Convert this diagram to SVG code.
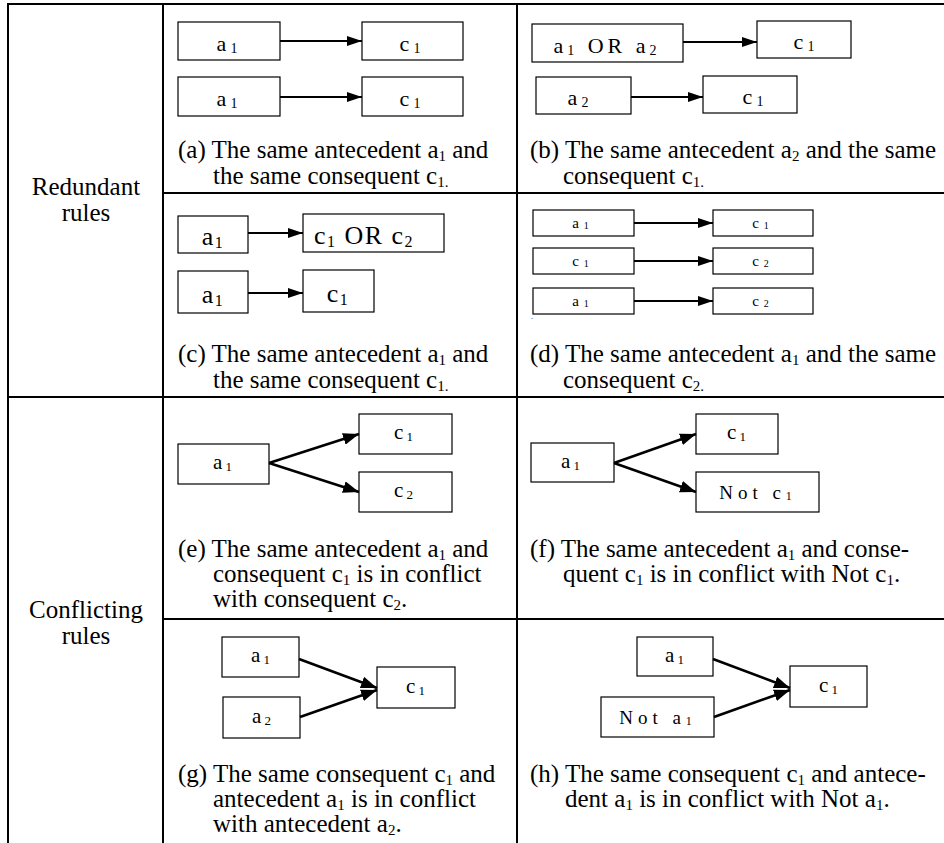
<svg xmlns="http://www.w3.org/2000/svg" width="944" height="843" viewBox="0 0 944 843">
<style>
text{font-family:"Liberation Serif","Times New Roman",serif;fill:#000}
.cap{font-size:25px}
.hd{font-size:25px;text-anchor:middle}
.sb{font-size:15px}
.grid{stroke:#000;stroke-width:2;fill:none}
.box{fill:#fff;stroke:#000;stroke-width:1.2}
.la{font-size:22px;text-anchor:middle;letter-spacing:4px}
.la .s{font-size:14px}
.lc{font-size:26px;text-anchor:middle;letter-spacing:1.5px}
.lc .s{font-size:16px}
.ld{font-size:15px;text-anchor:middle;letter-spacing:5px}
.ld .s{font-size:10px}
.le{font-size:21px;text-anchor:middle;letter-spacing:3px}
.le .s{font-size:13px}
.ln{font-size:19px;text-anchor:middle;letter-spacing:5px}
.ln .s{font-size:12px}
.ar{stroke:#000;stroke-width:2;fill:none;marker-end:url(#ah)}
.ar2{stroke:#000;stroke-width:2.6;fill:none;marker-end:url(#ah2)}
</style>
<defs>
<marker id="ah" viewBox="0 0 15 10" refX="15" refY="5" markerWidth="15" markerHeight="10" markerUnits="userSpaceOnUse" orient="auto"><path d="M0,0 L15,5 L0,10 z" fill="#000"/></marker>
<marker id="ah2" viewBox="0 0 16 12" refX="16" refY="6" markerWidth="16" markerHeight="12" markerUnits="userSpaceOnUse" orient="auto"><path d="M0,0 L16,6 L0,12 z" fill="#000"/></marker>
</defs>

<g id="table" class="grid">
<line x1="8" y1="4" x2="944" y2="4"/>
<line x1="8" y1="3" x2="8" y2="843"/>
<line x1="163" y1="3" x2="163" y2="843"/>
<line x1="517" y1="3" x2="517" y2="843"/>
<line x1="163" y1="193" x2="944" y2="193"/>
<line x1="8" y1="397" x2="944" y2="397"/>
<line x1="163" y1="619" x2="944" y2="619"/>
</g>

<g id="headers">
<text class="hd" x="86" y="195">Redundant</text>
<text class="hd" x="86" y="221">rules</text>
<text class="hd" x="86" y="618">Conflicting</text>
<text class="hd" x="86" y="644">rules</text>
</g>

<!-- (a) -->
<g id="a-a1-1"><rect class="box" x="178" y="22" width="102" height="38"/><text class="la" x="229" y="51">a<tspan class="s" dy="2">1</tspan></text></g>
<g id="a-c1-1"><rect class="box" x="362" y="22" width="101" height="38"/><text class="la" x="412" y="51">c<tspan class="s" dy="2">1</tspan></text></g>
<g id="a-a1-2"><rect class="box" x="178" y="77" width="102" height="39"/><text class="la" x="229" y="106">a<tspan class="s" dy="2">1</tspan></text></g>
<g id="a-c1-2"><rect class="box" x="362" y="77" width="101" height="39"/><text class="la" x="412" y="106">c<tspan class="s" dy="2">1</tspan></text></g>
<g id="cap-a"><text class="cap" x="178" y="158">(a) The same antecedent a<tspan class="sb" dy="3">1</tspan><tspan dy="-3"> and</tspan></text><text class="cap" x="213" y="184">the same consequent c<tspan class="sb" dy="3">1.</tspan></text></g>

<!-- (b) -->
<g id="b-a1ora2"><rect class="box" x="532" y="24" width="151" height="38"/><text class="la" x="607" y="53">a<tspan class="s" dy="2">1</tspan><tspan dy="-2"> OR a</tspan><tspan class="s" dy="2">2</tspan></text></g>
<g id="b-c1-1"><rect class="box" x="757" y="21" width="94" height="37"/><text class="la" x="806" y="49">c<tspan class="s" dy="2">1</tspan></text></g>
<g id="b-a2"><rect class="box" x="536" y="77" width="95" height="37"/><text class="la" x="580" y="105">a<tspan class="s" dy="2">2</tspan></text></g>
<g id="b-c1-2"><rect class="box" x="703" y="76" width="94" height="37"/><text class="la" x="755" y="104">c<tspan class="s" dy="2">1</tspan></text></g>
<g id="cap-b"><text class="cap" x="530" y="158">(b) The same antecedent a<tspan class="sb" dy="3">2</tspan><tspan dy="-3"> and the same</tspan></text><text class="cap" x="563" y="184">consequent c<tspan class="sb" dy="3">1.</tspan></text></g>

<!-- (c) -->
<g id="c-a1-1"><rect class="box" x="178" y="216" width="70" height="37"/><text class="lc" x="213" y="245">a<tspan class="s" dy="3">1</tspan></text></g>
<g id="c-c1orc2"><rect class="box" x="303" y="214" width="141" height="38"/><text class="lc" x="364" y="244">c<tspan class="s" dy="3">1</tspan><tspan dy="-3"> OR c</tspan><tspan class="s" dy="3">2</tspan></text></g>
<g id="c-a1-2"><rect class="box" x="178" y="271" width="70" height="42"/><text class="lc" x="213" y="303">a<tspan class="s" dy="3">1</tspan></text></g>
<g id="c-c1"><rect class="box" x="303" y="270" width="71" height="42"/><text class="lc" x="338" y="302">c<tspan class="s" dy="3">1</tspan></text></g>
<g id="cap-c"><text class="cap" x="178" y="362">(c) The same antecedent a<tspan class="sb" dy="3">1</tspan><tspan dy="-3"> and</tspan></text><text class="cap" x="213" y="388">the same consequent c<tspan class="sb" dy="3">1.</tspan></text></g>

<!-- (d) -->
<g id="d-a1-1"><rect class="box" x="533" y="210" width="101" height="26"/><text class="ld" x="583" y="228">a<tspan class="s" dy="1">1</tspan></text></g>
<g id="d-c1-1"><rect class="box" x="713" y="210" width="100" height="26"/><text class="ld" x="763" y="228">c<tspan class="s" dy="1">1</tspan></text></g>
<g id="d-c1-2"><rect class="box" x="533" y="248" width="101" height="26"/><text class="ld" x="583" y="266">c<tspan class="s" dy="1">1</tspan></text></g>
<g id="d-c2-1"><rect class="box" x="713" y="248" width="100" height="26"/><text class="ld" x="763" y="266">c<tspan class="s" dy="1">2</tspan></text></g>
<g id="d-a1-3"><rect class="box" x="533" y="288" width="101" height="26"/><text class="ld" x="583" y="306">a<tspan class="s" dy="1">1</tspan></text></g>
<g id="d-c2-3"><rect class="box" x="713" y="288" width="100" height="26"/><text class="ld" x="763" y="306">c<tspan class="s" dy="1">2</tspan></text></g>
<text x="531" y="319" style="font-size:8px">.</text>
<g id="cap-d"><text class="cap" x="530" y="362">(d) The same antecedent a<tspan class="sb" dy="3">1</tspan><tspan dy="-3"> and the same</tspan></text><text class="cap" x="563" y="388">consequent c<tspan class="sb" dy="3">2.</tspan></text></g>

<!-- (e) -->
<g id="e-a1"><rect class="box" x="178" y="444" width="91" height="40"/><text class="le" x="224" y="469">a<tspan class="s" dy="2">1</tspan></text></g>
<g id="e-c1"><rect class="box" x="359" y="414" width="93" height="40"/><text class="le" x="405" y="439">c<tspan class="s" dy="2">1</tspan></text></g>
<g id="e-c2"><rect class="box" x="359" y="472" width="93" height="40"/><text class="le" x="405" y="497">c<tspan class="s" dy="2">2</tspan></text></g>
<g id="cap-e"><text class="cap" x="178" y="557">(e) The same antecedent a<tspan class="sb" dy="3">1</tspan><tspan dy="-3"> and</tspan></text><text class="cap" x="213" y="582">consequent c<tspan class="sb" dy="3">1</tspan><tspan dy="-3"> is in conflict</tspan></text><text class="cap" x="213" y="607">with consequent c<tspan class="sb" dy="3">2</tspan><tspan dy="-3">.</tspan></text></g>

<!-- (f) -->
<g id="f-a1"><rect class="box" x="531" y="443" width="83" height="39"/><text class="le" x="572" y="468">a<tspan class="s" dy="2">1</tspan></text></g>
<g id="f-c1"><rect class="box" x="696" y="414" width="82" height="40"/><text class="le" x="738" y="439">c<tspan class="s" dy="2">1</tspan></text></g>
<g id="f-notc1"><rect class="box" x="696" y="472" width="123" height="40"/><text class="ln" x="758" y="499">Not c<tspan class="s" dy="1">1</tspan></text></g>
<g id="cap-f"><text class="cap" x="530" y="557">(f) The same antecedent a<tspan class="sb" dy="3">1</tspan><tspan dy="-3"> and conse-</tspan></text><text class="cap" x="563" y="582">quent c<tspan class="sb" dy="3">1</tspan><tspan dy="-3"> is in conflict with Not c</tspan><tspan class="sb" dy="3">1</tspan><tspan dy="-3">.</tspan></text></g>

<!-- (g) -->
<g id="g-a1"><rect class="box" x="222" y="637" width="77" height="40"/><text class="le" x="262" y="662">a<tspan class="s" dy="2">1</tspan></text></g>
<g id="g-a2"><rect class="box" x="223" y="697" width="77" height="41"/><text class="le" x="263" y="723">a<tspan class="s" dy="2">2</tspan></text></g>
<g id="g-c1"><rect class="box" x="377" y="667" width="78" height="41"/><text class="le" x="417" y="693">c<tspan class="s" dy="2">1</tspan></text></g>
<g id="cap-g"><text class="cap" x="178" y="782">(g) The same consequent c<tspan class="sb" dy="3">1</tspan><tspan dy="-3"> and</tspan></text><text class="cap" x="213" y="807">antecedent a<tspan class="sb" dy="3">1</tspan><tspan dy="-3"> is in conflict</tspan></text><text class="cap" x="213" y="832">with antecedent a<tspan class="sb" dy="3">2</tspan><tspan dy="-3">.</tspan></text></g>

<!-- (h) -->
<g id="h-a1"><rect class="box" x="637" y="637" width="76" height="39"/><text class="le" x="676" y="662">a<tspan class="s" dy="2">1</tspan></text></g>
<g id="h-nota1"><rect class="box" x="601" y="697" width="113" height="40"/><text class="ln" x="658" y="724">Not a<tspan class="s" dy="1">1</tspan></text></g>
<g id="h-c1"><rect class="box" x="790" y="666" width="77" height="41"/><text class="le" x="830" y="692">c<tspan class="s" dy="2">1</tspan></text></g>
<g id="cap-h"><text class="cap" x="530" y="782">(h) The same consequent c<tspan class="sb" dy="3">1</tspan><tspan dy="-3"> and antece-</tspan></text><text class="cap" x="565" y="807">dent a<tspan class="sb" dy="3">1</tspan><tspan dy="-3"> is in conflict with Not a</tspan><tspan class="sb" dy="3">1</tspan><tspan dy="-3">.</tspan></text></g>

<g id="connectors">
<line class="ar" x1="280" y1="41" x2="362" y2="41"/>
<line class="ar" x1="280" y1="97" x2="362" y2="97"/>
<line class="ar" x1="683" y1="42" x2="757" y2="42"/>
<line class="ar" x1="631" y1="97" x2="703" y2="97"/>
<line class="ar" x1="248" y1="233" x2="303" y2="233"/>
<line class="ar" x1="248" y1="293" x2="303" y2="293"/>
<line class="ar" x1="634" y1="223" x2="713" y2="223"/>
<line class="ar" x1="634" y1="261" x2="713" y2="261"/>
<line class="ar" x1="634" y1="301" x2="713" y2="301"/>
<line class="ar2" x1="269" y1="463" x2="359" y2="434"/>
<line class="ar2" x1="269" y1="463" x2="359" y2="492"/>
<line class="ar2" x1="614" y1="463" x2="696" y2="434"/>
<line class="ar2" x1="614" y1="463" x2="696" y2="492"/>
<line class="ar2" x1="299" y1="659" x2="377" y2="688"/>
<line class="ar2" x1="300" y1="717" x2="377" y2="690"/>
<line class="ar2" x1="713" y1="659" x2="790" y2="688"/>
<line class="ar2" x1="714" y1="717" x2="790" y2="690"/>
</g>
</svg>
